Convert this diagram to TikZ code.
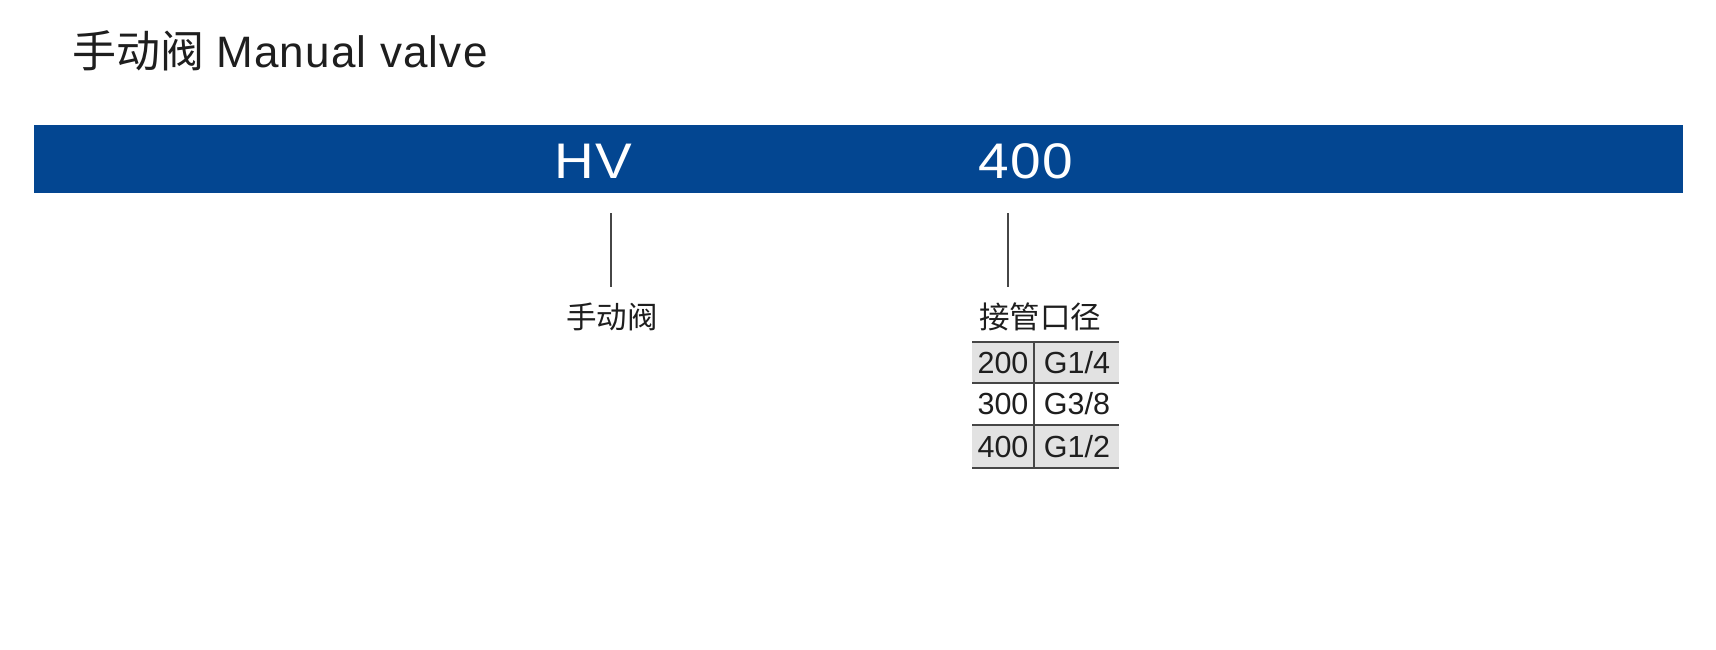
\documentclass[tikz,border=0pt]{standalone}
\usepackage{fontspec}
\setmainfont{Liberation Sans}
\newfontfamily\cjk{Noto Sans CJK SC}
\newfontfamily\widesans[FakeStretch=1.1,LetterSpace=3]{Liberation Sans}
\newfontfamily\titlesans[LetterSpace=2.7]{Liberation Sans}
\definecolor{barblue}{RGB}{3,70,145}
\definecolor{txt}{RGB}{30,30,30}
\definecolor{cellgray}{RGB}{226,226,226}
\definecolor{rule}{RGB}{70,70,70}
\begin{document}
\begin{tikzpicture}[x=1pt,y=-1pt,
  bartext/.style={text=white,font=\widesans\fontsize{50}{50}\selectfont,inner sep=0pt},
  cjklabel/.style={text=txt,font=\cjk\fontsize{30.5}{30.5}\selectfont,inner sep=0pt},
  leader/.style={draw=rule,line width=1.5pt},
  cell/.style={text=txt,font=\fontsize{30.5}{30.5}\selectfont,inner sep=0pt,minimum height=41pt},
  grid/.style={draw=rule,line width=1.5pt}]
\useasboundingbox (0,0) rectangle (1716,649);
% title
\node[anchor=west,text=txt,inner sep=0pt,font=\fontsize{44}{44}\selectfont] (title) at (72,51)
  {{\cjk 手动阀} {\titlesans Manual valve}};
% bar
\fill[barblue] (34,125) rectangle (1683,193);
\node[bartext] (hv) at (593,161) {HV};
\node[bartext] (code) at (1026,161) {400};
% leaders
\coordinate (l1a) at (611,213); \coordinate (l1b) at (611,287);
\coordinate (l2a) at (1008,213); \coordinate (l2b) at (1008,287);
\draw[leader] (l1a) -- (l1b);
\draw[leader] (l2a) -- (l2b);
% labels
\node[cjklabel] (lab1) at (612,317) {手动阀};
\node[cjklabel] (lab2) at (1040,317) {接管口径};
% table fills
\fill[cellgray] (972,342) rectangle (1119,383);
\fill[cellgray] (972,425) rectangle (1119,468);
% table text
\node[cell] (a1) at (1003,362.5) {200};
\node[cell] (b1) at (1077,362.5) {G1/4};
\node[cell] (a2) at (1003,404) {300};
\node[cell] (b2) at (1077,404) {G3/8};
\node[cell] (a3) at (1003,446.5) {400};
\node[cell] (b3) at (1077,446.5) {G1/2};
% table rules
\coordinate (t0l) at (972,342); \coordinate (t0r) at (1119,342);
\coordinate (t1l) at (972,383); \coordinate (t1r) at (1119,383);
\coordinate (t2l) at (972,425); \coordinate (t2r) at (1119,425);
\coordinate (t3l) at (972,468); \coordinate (t3r) at (1119,468);
\coordinate (vt) at (1034,342); \coordinate (vb) at (1034,468);
\draw[grid] (t0l) -- (t0r);
\draw[grid] (t1l) -- (t1r);
\draw[grid] (t2l) -- (t2r);
\draw[grid] (t3l) -- (t3r);
\draw[grid] (vt) -- (vb);
\end{tikzpicture}
\end{document}
